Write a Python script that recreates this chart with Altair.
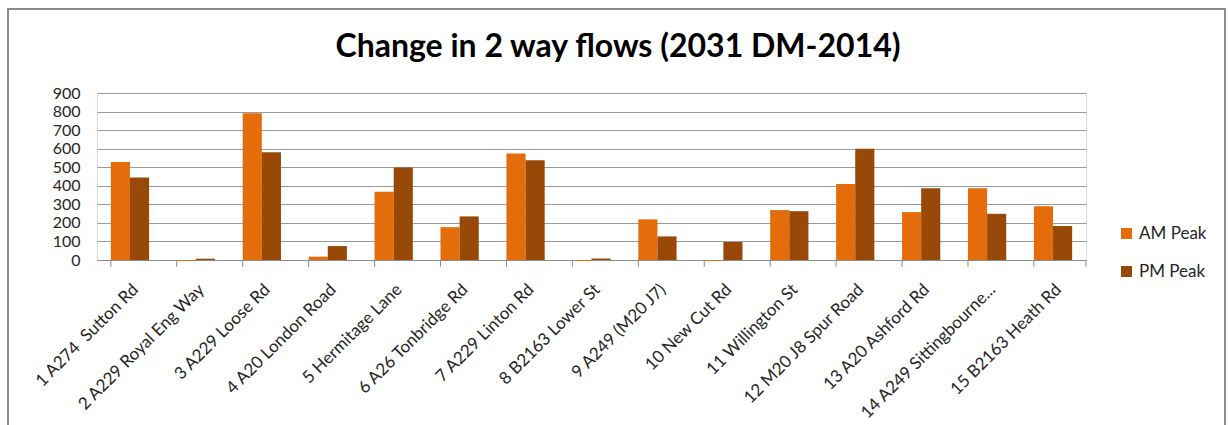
import altair as alt
import pandas as pd

categories = [
    "1 A274\u00a0 Sutton Rd", "2 A229 Royal Eng Way", "3 A229 Loose Rd", "4 A20 London Road",
    "5 Hermitage Lane", "6 A26 Tonbridge Rd", "7 A229 Linton Rd", "8 B2163 Lower St",
    "9 A249 (M20 J7)", "10 New Cut Rd", "11 Willington St", "12 M20 J8 Spur Road",
    "13 A20 Ashford Rd", "14 A249 Sittingbourne...", "15 B2163 Heath Rd",
]
am_peak = [528, -5, 791, 18, 368, 177, 574, -5, 219, -5, 269, 409, 258, 387, 290]
pm_peak = [445, 7, 581, 75, 498, 235, 538, 8, 127, 97, 263, 599, 387, 249, 183]
series = ["AM Peak", "PM Peak"]
y_ticks = [0, 100, 200, 300, 400, 500, 600, 700, 800, 900]
title_text = "Change in 2 way flows (2031 DM-2014)"

rows = []
for c, a, p in zip(categories, am_peak, pm_peak):
    rows.append({"cat": c, "series": series[0], "value": a})
    rows.append({"cat": c, "series": series[1], "value": p})
df = pd.DataFrame(rows)
cat_df = pd.DataFrame({"cat": categories})

W, H = 989, 167
FONT = "Lato"
xscale = alt.Scale(type="band", domain=categories, paddingInner=0.42, paddingOuter=0.21)

bars = alt.Chart(df).mark_bar().encode(
    x=alt.X("cat:N", sort=categories, scale=xscale, title=None,
            axis=alt.Axis(labelAngle=-45, labelFontSize=17, labelFont=FONT, labelColor="#262626",
                          ticks=False, domainColor="#8c8c8c", domainWidth=1, labelPadding=21,
                          grid=False, labelLimit=300)),
    xOffset=alt.XOffset("series:N", sort=series, scale=alt.Scale(paddingInner=0, paddingOuter=0)),
    y=alt.Y("value:Q", scale=alt.Scale(domain=[0, 900], nice=False, zero=True), title=None,
            axis=alt.Axis(values=y_ticks, labelFontSize=16, labelFont=FONT, labelColor="#262626",
                          ticks=False, domain=False, gridColor="#9a9a9a", gridWidth=1,
                          labelPadding=17)),
    color=alt.Color("series:N", sort=series,
                    scale=alt.Scale(domain=series, range=["#E46C0A", "#984807"]),
                    legend=alt.Legend(title=None, orient="none", legendX=1021, legendY=132,
                                      labelFontSize=17, labelFont=FONT, labelColor="#262626",
                                      symbolType="square", symbolSize=121, symbolStrokeWidth=0,
                                      rowPadding=20, padding=0, labelOffset=4)),
)

ticks = alt.Chart(cat_df).mark_rule(color="#8c8c8c", strokeWidth=1).encode(
    x=alt.X("cat:N", sort=categories, scale=xscale, bandPosition=0),
    y=alt.value(H), y2=alt.value(H + 7),
)
last_tick = alt.Chart(pd.DataFrame({"k": [0]})).mark_rule(color="#8c8c8c", strokeWidth=1).encode(
    x=alt.value(W), y=alt.value(H), y2=alt.value(H + 7),
)
frame = alt.Chart(pd.DataFrame({"k": [0]})).mark_rect(
    fill="transparent", stroke="#8c8c8c", strokeWidth=2
).encode(
    x=alt.value(-89), x2=alt.value(1128), y=alt.value(-84), y2=alt.value(345),
)
title = alt.Chart(pd.DataFrame({"t": [title_text]})).mark_text(
    font=FONT, fontSize=32, fontWeight="bold", color="black", align="center",
    baseline="alphabetic"
).encode(
    text="t:N", x=alt.value(521), y=alt.value(-36),
)

chart = alt.layer(frame, bars, ticks, last_tick, title).properties(
    width=W, height=H,
    padding={"left": 97, "top": 93, "right": 143, "bottom": 165},
    autosize=alt.AutoSizeParams(type="none"),
).configure_view(stroke=None).configure(background="white")

chart.save("out.html", embed_options={"renderer": "svg", "actions": False})
